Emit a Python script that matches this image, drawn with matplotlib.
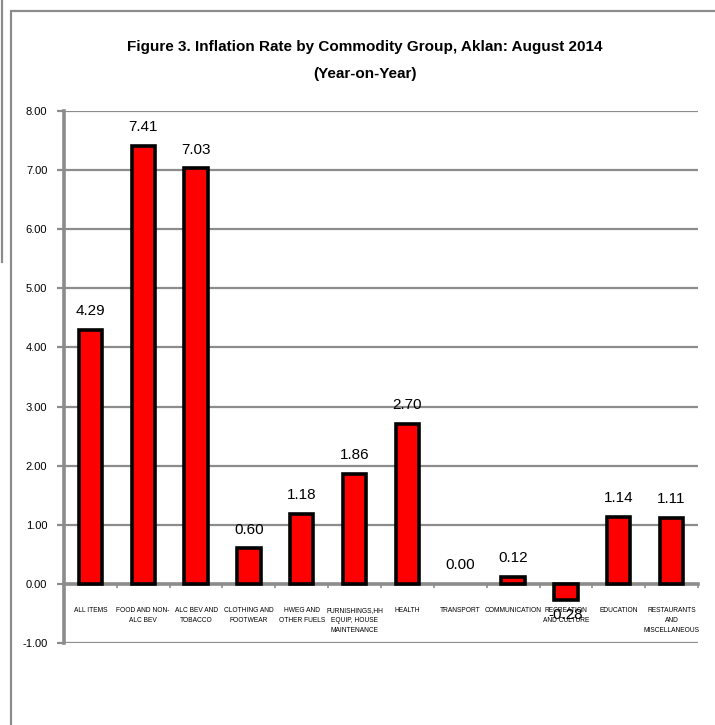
import matplotlib
matplotlib.use('Agg')
from matplotlib import pyplot as plt
from matplotlib.patches import Rectangle
from matplotlib.lines import Line2D
import numpy as np

# data
categories = ['ALL ITEMS', 'FOOD AND NON-\nALC BEV', 'ALC BEV AND\nTOBACCO',
              'CLOTHING AND\nFOOTWEAR', 'HWEG AND\nOTHER FUELS',
              'FURNISHINGS,HH\nEQUIP, HOUSE\nMAINTENANCE', 'HEALTH', 'TRANSPORT',
              'COMMUNICATION', 'RECREATION\nAND CULTURE', 'EDUCATION',
              'RESTAURANTS\nAND\nMISCELLANEOUS']
values = [4.29, 7.41, 7.03, 0.60, 1.18, 1.86, 2.70, 0.00, 0.12, -0.28, 1.14, 1.11]
yticks = [-1, 0, 1, 2, 3, 4, 5, 6, 7, 8]

plt.rcParams['font.family'] = ['Liberation Sans', 'DejaVu Sans']

W, H = 715, 725
fig = plt.figure(figsize=(W / 100, H / 100), dpi=100)

# outer frame lines
fig.patches.append(Rectangle((11 / W, -0.05), 1.2, 1 - 11 / H + 0.05, transform=fig.transFigure,
                             fill=False, edgecolor='#8c8c8c', linewidth=1.6))
fig.lines.append(Line2D([2 / W, 2 / W], [1, 1 - 262 / H], transform=fig.transFigure,
                        color='#8c8c8c', linewidth=1.6))

ax = fig.add_axes([64 / W, 1 - 643 / H, (698 - 64) / W, (643 - 111) / H])
gray = '#8c8c8c'

# spine position first - it resets the ticks
for s in ['top', 'right']:
    ax.spines[s].set_visible(False)
ax.spines['bottom'].set_position(('data', 0))
ax.spines['bottom'].set_color(gray)
ax.spines['bottom'].set_linewidth(2.6)
ax.spines['bottom'].set_zorder(2)
ax.spines['left'].set_color(gray)
ax.spines['left'].set_linewidth(2.6)

x = np.arange(len(categories))
# a zero bar is not drawn at all in the reference
lw = [0 if v == 0 else 2.6 for v in values]
ax.bar(x, values, width=0.44, color='#ff0000', edgecolor='black', linewidth=lw, zorder=3)

for xi, v in zip(x, values):
    if v >= 0:
        ax.text(xi, v + 0.2, '%.2f' % v, ha='center', va='bottom', fontsize=11, zorder=4)
    else:
        ax.text(xi, v - 0.12, '%.2f' % v, ha='center', va='top', fontsize=11, zorder=4)

ax.set_xlim(-0.5, len(categories) - 0.5)
ax.set_ylim(-1, 8)
ax.set_yticks(yticks)
ax.set_yticklabels(['%.2f' % t for t in yticks])
ax.yaxis.grid(True, color=gray, linewidth=1.6, zorder=0)
ax.set_axisbelow(True)

ax.set_xticks(x)
ax.set_xticklabels(categories, linespacing=1.6)
ax.set_xticks(np.arange(-0.5, len(categories), 1), minor=True)
ax.tick_params(axis='x', which='major', length=0, pad=17, labelsize=4.8)
ax.tick_params(axis='x', which='minor', length=3, width=1.2, color=gray)
ax.tick_params(axis='y', length=5, width=1.6, color=gray, pad=7, labelsize=8)

fig.text(365 / W, 1 - 47 / H, 'Figure 3. Inflation Rate by Commodity Group, Aklan: August 2014',
         ha='center', va='center', fontsize=11, fontweight='bold')
fig.text(365 / W, 1 - 74 / H, '(Year-on-Year)', ha='center', va='center',
         fontsize=11, fontweight='bold')

fig.savefig('out.png', dpi=100)
